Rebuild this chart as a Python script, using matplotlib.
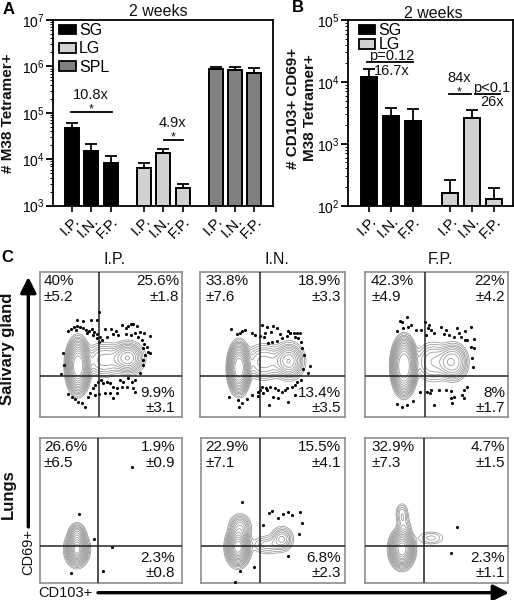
import numpy as np
import matplotlib
matplotlib.use("Agg")
import matplotlib.pyplot as plt
from matplotlib.patches import Patch
from matplotlib.transforms import ScaledTranslation

plt.rcParams['font.family'] = ['Liberation Sans', 'DejaVu Sans']
plt.rcParams['mathtext.default'] = 'regular'

W, H = 514, 600

# panel A
routes = ["I.P.", "I.N.", "F.P."]
a_sg = [46700, 15400, 8200]
a_sg_err = [60000, 21800, 12000]
a_lg = [6400, 13500, 2440]
a_lg_err = [8470, 17000, 2900]
a_spl = [890000, 850000, 718000]
a_spl_err = [968000, 950000, 920000]

# panel B
b_sg = [11800, 2850, 2360]
b_sg_err = [16100, 3830, 3650]
b_lg = [158, 2580, 128]
b_lg_err = [260, 3550, 190]

# panel C boxes (x0, y0, x1, y1 in picture pixels), vertical and horizontal gate
boxes = [(40, 272, 181.5, 417), (200, 272, 344.5, 417), (364.5, 272, 508, 417),
         (40, 437.5, 181.5, 582.5), (200.5, 437.5, 344.5, 582.5), (364.5, 437.5, 508, 582.5)]
gate_x = [98.5, 260, 424.5, 98, 260, 424]
gate_y = [376, 376, 376, 545.5, 545.5, 545.5]

# density blobs, one list per panel: x, y, sigma x, sigma y, peak, sharpness
blobs_sg_ip = [(78, 366, 6.6, 15, 1.0, 1.5), (128, 358, 8, 8, 0.5, 1.1), (104, 360, 11, 9.5, 0.22, 1.3)]
blobs_sg_in = [(239, 368, 6.1, 14, 1.0, 1.5), (289, 361, 7.5, 9, 0.5, 1.1), (264, 362, 11, 10, 0.22, 1.3)]
blobs_sg_fp = [(404, 366, 7.2, 16.5, 1.0, 1.7), (453, 362, 8, 10, 0.4, 1.3), (433, 362, 10, 11, 0.2, 1.3)]
blobs_lg_ip = [(77, 549, 5.5, 8, 1.0, 1.1), (77, 534, 4.2, 5.5, 0.3, 1.1)]
blobs_lg_in = [(238, 547, 6, 9.5, 1.0, 1.2), (240, 527, 5.5, 6.5, 0.3, 1.1),
               (282, 539, 5.5, 6, 0.28, 1.0), (267, 545, 8, 5, 0.14, 1.0)]
blobs_lg_fp = [(402, 549, 6.5, 10, 1.0, 1.3), (402, 514, 3.5, 6, 0.14, 1.2),
               (404, 528, 4, 7, 0.12, 1.2), (431, 538, 8, 4, 0.09, 1.1)]
all_blobs = [blobs_sg_ip, blobs_sg_in, blobs_sg_fp, blobs_lg_ip, blobs_lg_in, blobs_lg_fp]
levels = [0.03, 0.05, 0.08, 0.11, 0.15, 0.2, 0.26, 0.33, 0.41, 0.5, 0.6, 0.7, 0.8, 0.9]

dots_sg_ip = [(298,215),(230,240),(248,243),(272,241),(290,240),(213,268),(222,262),(232,258),(240,262),(250,265),
              (258,270),(268,272),(275,268),(283,275),(292,283),(300,290),(205,272),(228,270),(262,278),(280,285),
              (290,295),(296,305),(305,300),(315,268),(322,290),(333,268),(340,282),(348,272),(355,285),(365,255),
              (378,265),(385,258),(392,253),(400,252),(410,258),(420,275),(432,280),(450,287),(378,282),(392,285),
              (405,280),(415,290),(425,300),(432,312),(440,320),(430,325),(445,335),(435,345),(450,338),(430,360),
              (428,375),(420,400),(188,340),(192,375),(184,402),(205,462),(215,470),(225,478),(235,485),(245,490),
              (255,502),(265,470),(270,460),(280,445),(285,435),(295,425),(302,420),(310,430),(320,425),(330,430),
              (340,440),(350,445),(360,420),(370,425),(380,440),(395,425),(405,420),(400,445),(405,455),(340,475),
              (316,458),(298,462),(285,465),(330,458),(350,460),(365,440),(385,415)]
dots_sg_in = [(108,57),(125,72),(135,68),(140,62),(150,60),(170,68),(180,75),(195,78),(200,45),(215,52),(235,47),
              (247,55),(210,68),(228,65),(208,82),(220,98),(232,95),(245,92),(255,72),(262,85),(280,62),(285,70),
              (298,68),(315,68),(300,82),(310,85),(318,95),(322,115),(328,135),(345,168),(338,188),(325,178),
              (318,210),(305,215),(300,225),(290,232),(275,235),(262,245),(250,240),(240,235),(225,232),(212,235),
              (200,232),(205,248),(190,245),(170,255),(155,268),(140,280),(132,290),(130,270),(103,262),(222,285),
              (235,262),(248,265),(280,275),(300,255),(190,258),(215,240),(195,240),(270,240),(285,68),(275,78),(305,70)]
dots_sg_fp = [(458,230),(437,243),(445,247),(430,273),(448,265),(462,260),(470,255),(487,270),(500,270),(512,245),
              (515,285),(525,255),(530,270),(540,280),(560,260),(575,270),(585,285),(600,290),(610,265),(615,280),
              (632,272),(650,260),(660,297),(640,300),(650,320),(660,325),(655,355),(658,380),(530,450),(520,455),
              (528,460),(555,450),(575,450),(590,452),(600,470),(590,475),(595,490),(630,450),(640,440),(625,465),
              (630,475),(540,495),(498,455),(430,493),(445,502),(460,495),(478,482),(522,265),(570,282),(620,290),(632,300)]
dots_lg_ip = [(237,283),(281,356),(397,142),(336,380),(213,460),(308,452)]
dots_lg_in = [(142,65),(205,135),(222,100),(232,93),(250,115),(265,102),(278,97),(290,106),(315,95),(320,130),
              (312,163),(280,228),(177,260),(136,272),(120,305)]
dots_lg_fp = [(609,320),(592,398)]
all_dots = [dots_sg_ip, dots_sg_in, dots_sg_fp, dots_lg_ip, dots_lg_in, dots_lg_fp]
crop_origin = [(0, 240), (195, 310), (254, 240), (0, 420), (195, 480), (254, 420)]

# quadrant percentages: upper left, upper right, lower right
ul_pct = [("40%", "±5.2"), ("33.8%", "±7.6"), ("42.3%", "±4.9"), ("26.6%", "±6.5"), ("22.9%", "±7.1"), ("32.9%", "±7.3")]
ur_pct = [("25.6%", "±1.8"), ("18.9%", "±3.3"), ("22%", "±4.2"), ("1.9%", "±0.9"), ("15.5%", "±4.1"), ("4.7%", "±1.5")]
lr_pct = [("9.9%", "±3.1"), ("13.4%", "±3.5"), ("8%", "±1.7"), ("2.3%", "±0.8"), ("6.8%", "±2.3"), ("2.3%", "±1.1")]
ul_x = [44, 205, 371, 44, 205, 371]
right_x = [179, 341, 505, 175, 341, 505]
lr_x = [175, 341, 505, 175, 341, 505]

fig = plt.figure(figsize=(W / 100, H / 100), dpi=100)


def px_axes(x0, y0, x1, y1):
    return fig.add_axes([x0 / W, 1 - y1 / H, (x1 - x0) / W, (y1 - y0) / H])


def bars(ax, pos, vals, tops, color, width, bottom):
    ax.bar(pos, np.array(vals) - bottom, width, bottom=bottom, color=color, edgecolor='k', linewidth=1.4)
    low = np.zeros(len(vals))
    high = np.array(tops) - np.array(vals)
    ax.errorbar(pos, vals, yerr=[low, high], fmt='none', ecolor='k', elinewidth=1.3, capsize=4, capthick=1.3)


def style_bar_axes(ax, pos, ymin, ymax):
    ax.set_yscale('log')
    ax.set_ylim(ymin, ymax)
    ax.set_xticks(pos)
    ax.set_xticklabels(routes * (len(pos) // 3), rotation=45, ha='right', rotation_mode='anchor', fontsize=11)
    shift = ScaledTranslation(6 / 72, 0, fig.dpi_scale_trans)
    for t in ax.get_xticklabels():
        t.set_transform(t.get_transform() + shift)
    ax.tick_params(axis='x', length=4, width=1.2, pad=2)
    ax.tick_params(axis='y', which='major', length=5, width=1.3, labelsize=10, pad=1)
    ax.tick_params(axis='y', which='minor', length=2.5, width=0.7)
    for s in ax.spines.values():
        s.set_linewidth(1.3)


# panel A, spacing of 19.4 px
ax = px_axes(53, 20, 272.5, 205.7)
pos_a = [0, 1, 2, 3.7, 4.7, 5.7, 7.4, 8.4, 9.4]
bars(ax, pos_a[:3], a_sg, a_sg_err, 'k', 0.72, 1e3)
bars(ax, pos_a[3:6], a_lg, a_lg_err, '#d2d2d2', 0.72, 1e3)
bars(ax, pos_a[6:], a_spl, a_spl_err, '#808080', 0.72, 1e3)
ax.set_xlim(-0.98, 10.33)
style_bar_axes(ax, pos_a, 1e3, 1e7)
ax.legend(handles=[Patch(fc='k', ec='k', lw=1.3, label='SG'), Patch(fc='#d2d2d2', ec='k', lw=1.3, label='LG'),
                   Patch(fc='#808080', ec='k', lw=1.3, label='SPL')],
          loc='upper left', bbox_to_anchor=(0.012, 1.0), frameon=False, fontsize=11.5, handlelength=1.05,
          handleheight=0.55, handletextpad=0.2, labelspacing=0.2, borderpad=0.2, borderaxespad=0)

# panel B, spacing of 22 px
ax = px_axes(348, 20, 513, 205.7)
pos_b = [0, 1, 2, 3.67, 4.67, 5.67]
bars(ax, pos_b[:3], b_sg, b_sg_err, 'k', 0.72, 1e2)
bars(ax, pos_b[3:], b_lg, b_lg_err, '#d2d2d2', 0.72, 1e2)
ax.set_xlim(-0.97, 6.53)
style_bar_axes(ax, pos_b, 1e2, 1e5)
ax.legend(handles=[Patch(fc='k', ec='k', lw=1.3, label='SG'), Patch(fc='#d2d2d2', ec='k', lw=1.3, label='LG')],
          loc='upper left', bbox_to_anchor=(0.045, 1.0), frameon=False, fontsize=11.5, handlelength=1.05,
          handleheight=0.55, handletextpad=0.2, labelspacing=-0.05, borderpad=0.2, borderaxespad=0)

# panel C
for i in range(6):
    x0, y0, x1, y1 = boxes[i]
    ax = px_axes(x0, y0, x1, y1)
    xs = np.linspace(x0, x1, 300)
    ys = np.linspace(y0, y1, 300)
    xx, yy = np.meshgrid(xs, ys)
    z = np.zeros_like(xx)
    for cx, cy, sx, sy, peak, sharp in all_blobs[i]:
        z += peak * np.exp(-(((xx - cx) / sx) ** 2 / 2 + ((yy - cy) / sy) ** 2 / 2) ** sharp)
    ax.contour(xx, yy, z, levels=levels, colors='#8a8a8a', linewidths=0.5)
    ox, oy = crop_origin[i]
    ax.scatter([ox + d[0] / 3 for d in all_dots[i]], [oy + d[1] / 3 for d in all_dots[i]], s=5, c='k', linewidths=0, zorder=3)
    ax.axvline(gate_x[i], color='#222222', lw=1.1, zorder=4)
    ax.axhline(gate_y[i], color='#222222', lw=1.1, zorder=4)
    ax.set_xlim(x0, x1)
    ax.set_ylim(y1, y0)
    ax.set_xticks([])
    ax.set_yticks([])
    for s in ax.spines.values():
        s.set_color('#8c8c8c')
        s.set_linewidth(1.2)

# everything placed by picture position goes on a sheet over the axes
top = fig.add_axes([0, 0, 1, 1], zorder=10)
top.set_xlim(0, W)
top.set_ylim(H, 0)
top.axis('off')
top.patch.set_alpha(0)


def label(x, y, s, size=11, ha='center', **kw):
    top.text(x, y, s, fontsize=size, ha=ha, va='center', color=kw.pop('color', '#111111'), **kw)


for x, y, s in [(9, 9, 'A'), (298, 8, 'B'), (7, 258, 'C')]:
    label(x, y, s, 12, weight='bold', color='k')
label(158, 12, '2 weeks', 11.5)
label(433, 13, '2 weeks', 11.5)
label(8, 113, '# M38 Tetramer+', 11, rotation=90, weight='bold')
label(293, 108, '# CD103+ CD69+', 11, rotation=90, weight='bold')
label(310, 108, 'M38 Tetramer+', 11, rotation=90, weight='bold')

# significance marks
for x0, x1, y in [(71, 112, 112), (164, 183, 140), (367, 413, 62), (448.7, 471, 94), (475, 500, 94)]:
    top.plot([x0, x1], [y, y], color='k', lw=1.3)
for x, y, s in [(91, 95, '10.8x'), (172, 123, '4.9x'), (392, 56, 'p=0.12'), (392, 71, '16.7x'),
                (459, 78, '84x'), (492, 88, 'p<0.1'), (492, 102, '26x')]:
    label(x, y, s, 10.5)
for x, y in [(91, 109), (173, 137), (459, 92)]:
    label(x, y, '*', 9)

# panel C texts
for x, s in [(115, 'I.P.'), (277, 'I.N.'), (441, 'F.P.')]:
    label(x, 259, s, 11.5)
for i in range(6):
    rows = (281, 297, 393, 408) if i < 3 else (447, 463, 558, 573)
    label(ul_x[i], rows[0], ul_pct[i][0], 11, ha='left')
    label(ul_x[i], rows[1], ul_pct[i][1], 11, ha='left')
    label(right_x[i], rows[0], ur_pct[i][0], 11, ha='right')
    label(right_x[i], rows[1], ur_pct[i][1], 11, ha='right')
    label(lr_x[i], rows[2], lr_pct[i][0], 11, ha='right')
    label(lr_x[i], rows[3], lr_pct[i][1], 11, ha='right')
label(8, 349, 'Salivary gland', 12, rotation=90, weight='bold')
label(8, 494, 'Lungs', 12, rotation=90, weight='bold')
label(28, 552, 'CD69+', 10.5, rotation=90)
label(65, 593, 'CD103+', 10.5)

arrow = dict(arrowstyle='-|>,head_length=0.67,head_width=0.34', color='k', lw=2.4, mutation_scale=14,
             shrinkA=0, shrinkB=0)
top.annotate('', xy=(28.3, 277), xytext=(28.3, 527), arrowprops=arrow)
top.annotate('', xy=(509, 592.7), xytext=(98, 592.7), arrowprops=arrow)

fig.savefig('out.png', dpi=100)
